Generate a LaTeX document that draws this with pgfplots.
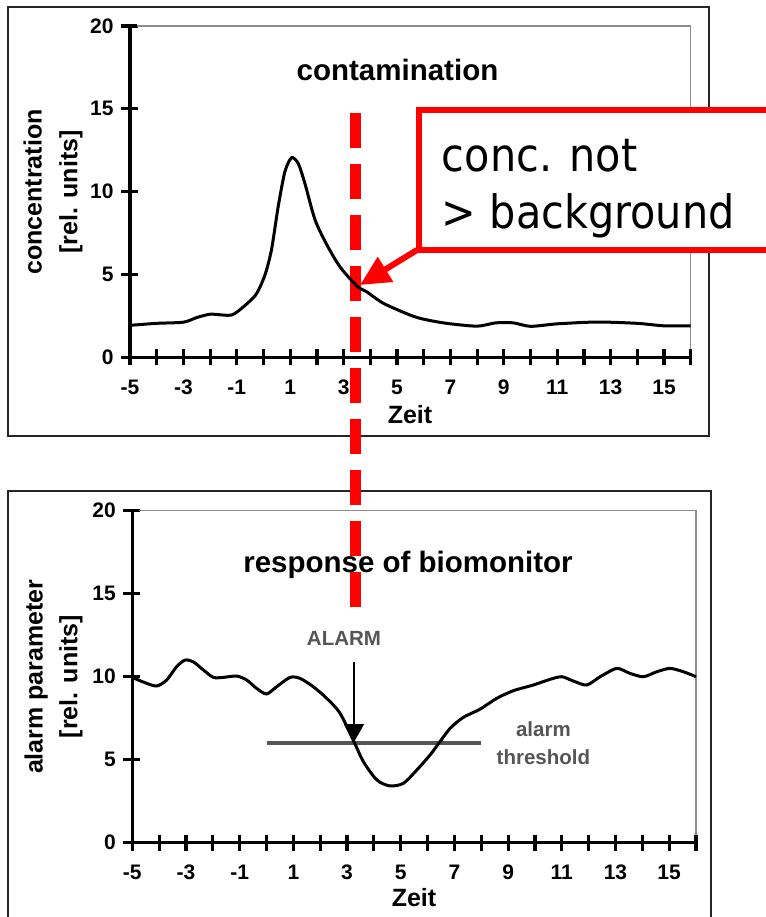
\documentclass[border=0pt]{standalone}
\usepackage{pgfplots}
\pgfplotsset{compat=1.18}
\usepackage{fontspec}
\setmainfont{Liberation Sans}
\newfontfamily\calloutfont[FakeStretch=0.9]{DejaVu Sans}
\usetikzlibrary{arrows.meta}
\definecolor{alarmgray}{HTML}{555555}
\pgfplotsset{
  myax/.style={
    scale only axis, xmin=-5, xmax=16, ymin=0, ymax=20,
    axis lines=left, axis line style={-, line width=3.3bp, black},
    xtick={-5,...,16},
    xticklabels={-5,,-3,,-1,,1,,3,,5,,7,,9,,11,,13,,15,},
    ytick={0,5,10,15,20}, yticklabels={0,5,10,15,20},
    tick align=center,
    major tick length=16bp,
    major tick style={line width=3bp, black},
    ticklabel style={font=\fontsize{21bp}{21bp}\selectfont\bfseries},
    xticklabel style={yshift=-11bp},
    yticklabel style={xshift=-5bp},
    clip=false,
  },
}
\begin{document}
\begin{tikzpicture}
\path[use as bounding box] (0,0) rectangle (766bp,-917bp);
\clip (0,0) rectangle (766bp,-917bp);
\begin{scope}[x=1bp,y=-1bp]
  \draw[black!85, line width=1.6bp] (8,7) rectangle (709,436);
  \draw[black!85, line width=1.6bp] (8,490.7) rectangle (710.7,960);
  \draw[red, line width=11bp, dash pattern=on 35.5bp off 15.5bp] (355,112.7) -- (355,608);
\end{scope}

\begin{axis}[myax, at={(130bp,-357.3bp)}, anchor=south west, width=560.7bp, height=331.3bp]
  \draw[black!45, line width=1.3bp] (rel axis cs:0,1) -- (rel axis cs:1,1) -- (rel axis cs:1,0);
  \addplot[black, line width=3bp, smooth, tension=0.45] coordinates {
    (-5,1.93) (-4,2.05) (-3,2.12) (-2.5,2.4) (-2,2.6) (-1.5,2.55) (-1.2,2.55)
    (-0.9,2.85) (-0.3,3.75) (0.05,4.95) (0.3,6.5) (0.55,9.1) (0.8,11.2)
    (1.05,12.05) (1.3,11.7) (1.55,10.5) (1.93,8.3) (2.37,6.8) (2.87,5.45)
    (3.5,4.3) (3.87,3.95) (4.49,3.26) (5.49,2.55) (6.0,2.3) (6.86,2.05)
    (8,1.88) (8.7,2.08) (9.35,2.08) (10,1.87) (11,2.02) (12.5,2.13)
    (14,2.05) (15,1.9) (16,1.9)
  };
\end{axis}

\begin{axis}[myax, at={(132.3bp,-842.7bp)}, anchor=south west, width=563.7bp, height=332bp]
  \draw[black!45, line width=1.3bp] (rel axis cs:0,1) -- (rel axis cs:1,1) -- (rel axis cs:1,0);
  \addplot[alarmgray, line width=3.5bp] coordinates {(0,6) (8,6)};
  \addplot[black, line width=3bp, smooth, tension=0.45] coordinates {
    (-5,9.96) (-4.53,9.64) (-4.09,9.44) (-3.72,9.8) (-3.35,10.6) (-3.04,11.0)
    (-2.73,10.9) (-2.35,10.4) (-1.98,9.96) (-1.61,9.96) (-1.11,10.04)
    (-0.74,9.8) (-0.37,9.3) (0,8.96) (0.38,9.4) (0.88,9.96) (1.25,9.9)
    (1.74,9.4) (2.24,8.7) (2.74,7.8) (3.26,6.08) (3.61,4.88) (4.11,3.78)
    (4.6,3.42) (5.1,3.58) (5.6,4.38) (6.09,5.28) (6.46,6.08) (6.84,6.89)
    (7.33,7.55) (7.95,8.04) (8.58,8.7) (9.2,9.16) (9.94,9.5) (10.56,9.84)
    (11.0,10.0) (11.43,9.74) (11.93,9.5) (12.43,10.0) (13.05,10.5)
    (13.54,10.2) (14.04,10.0) (14.54,10.3) (15.03,10.5) (15.53,10.3) (16,10.0)
  };
\end{axis}

\begin{scope}[x=1bp,y=-1bp]
  % heavy tick marks (axis decoration)
  \foreach \i in {0,...,21} {
    \draw[black, line width=3.2bp] ({130+\i*26.7},349.3) -- ({130+\i*26.7},365.3);
    \draw[black, line width=3.2bp] ({132.3+\i*26.843},834.7) -- ({132.3+\i*26.843},850.7);
  }
  \foreach \i in {0,...,4} {
    \draw[black, line width=3.2bp] (121,{357.3-\i*82.83}) -- (137,{357.3-\i*82.83});
    \draw[black, line width=3.2bp] (123.3,{842.7-\i*83}) -- (139.3,{842.7-\i*83});
  }
  % titles
  \node[anchor=base, font=\fontsize{29.5bp}{30bp}\selectfont\bfseries] at (397.5,80) {contamination};
  \node[anchor=base, font=\fontsize{29.5bp}{30bp}\selectfont\bfseries] at (408,572.7) {response of biomonitor};
  % y labels
  \node[rotate=90, anchor=base, font=\fontsize{25bp}{25bp}\selectfont\bfseries] at (41.7,192) {concentration};
  \node[rotate=90, anchor=base, font=\fontsize{25bp}{25bp}\selectfont\bfseries] at (77.3,192) {[rel. units]};
  \node[rotate=90, anchor=base, font=\fontsize{25bp}{25bp}\selectfont\bfseries] at (42.5,676.7) {alarm parameter};
  \node[rotate=90, anchor=base, font=\fontsize{25bp}{25bp}\selectfont\bfseries] at (77.3,676.7) {[rel. units]};
  % x labels
  \node[anchor=base, font=\fontsize{25bp}{25bp}\selectfont\bfseries] at (410,423.3) {Zeit};
  \node[anchor=base, font=\fontsize{25bp}{25bp}\selectfont\bfseries] at (414,906.7) {Zeit};
  % alarm annotations
  \node[anchor=base, text=alarmgray, font=\fontsize{20.5bp}{20.5bp}\selectfont\bfseries] at (344,645) {ALARM};
  \draw[black, line width=2bp, -{Triangle[length=18bp,width=20bp]}] (354,661.7) -- (354,742);
  \node[anchor=base, text=alarmgray, font=\fontsize{20.5bp}{20.5bp}\selectfont\bfseries] at (543.4,736.7) {alarm};
  \node[anchor=base, text=alarmgray, font=\fontsize{20.5bp}{20.5bp}\selectfont\bfseries] at (543.4,764) {threshold};
  % callout
  \draw[red, line width=6bp, fill=white] (419,110.3) rectangle (800,250.3);
  \node[anchor=base west, inner sep=0pt, font=\calloutfont\fontsize{46bp}{46bp}\selectfont] at (441.7,171.7) {conc. not};
  \node[anchor=base west, inner sep=0pt, font=\calloutfont\fontsize{46bp}{46bp}\selectfont] at (441.7,228.3) {> background};
  \draw[red, line width=6bp, -{Triangle[length=30bp,width=28bp]}] (417,250) -- (360,285);
\end{scope}
\end{tikzpicture}
\end{document}
